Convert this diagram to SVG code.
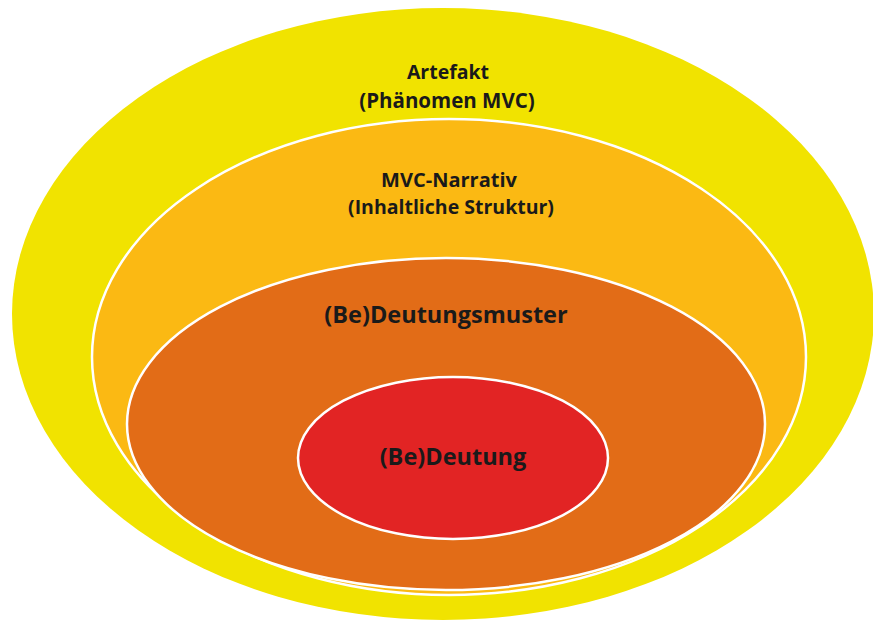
<svg xmlns="http://www.w3.org/2000/svg" width="873" height="628" viewBox="0 0 873 628">
<style>
.lbl{font-family:"Open Sans","Liberation Sans",sans-serif;font-weight:bold;fill:#1a1a1a;text-anchor:middle}
.ring{stroke:#ffffff;stroke-width:2.5}
</style>
<rect width="873" height="628" fill="#ffffff"/>
<g id="artefakt">
<ellipse cx="443" cy="314" rx="431" ry="306" fill="#F1E300"/>
<text class="lbl" x="448" y="79" font-size="19.5">Artefakt</text>
<text class="lbl" x="447" y="108" font-size="20.5">(Phänomen MVC)</text>
</g>
<g id="narrativ">
<ellipse class="ring" cx="449" cy="357" rx="357" ry="238" fill="#FBB913"/>
<text class="lbl" x="449" y="187" font-size="20">MVC-Narrativ</text>
<text class="lbl" x="451" y="214" font-size="19.5">(Inhaltliche Struktur)</text>
</g>
<g id="deutungsmuster">
<ellipse class="ring" cx="446" cy="424" rx="319" ry="166" fill="#E26C17"/>
<text class="lbl" x="446" y="323" font-size="23.5">(Be)Deutungsmuster</text>
</g>
<g id="deutung">
<ellipse class="ring" cx="453" cy="458" rx="155" ry="81" fill="#E22424"/>
<text class="lbl" x="453" y="465" font-size="23.5">(Be)Deutung</text>
</g>
<g id="connectors"></g>
</svg>
